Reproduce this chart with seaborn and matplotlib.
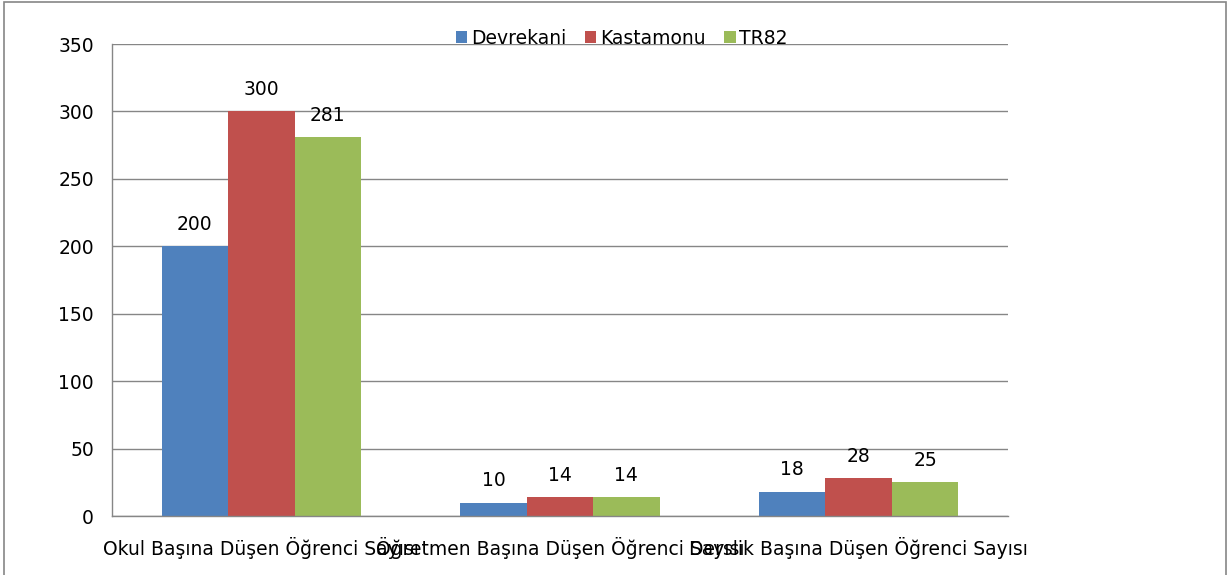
import matplotlib
matplotlib.use("Agg")
import matplotlib.pyplot as plt
import seaborn as sns
import pandas as pd
from matplotlib.patches import Rectangle

categories = ["Okul Başına Düşen Öğrenci Sayısı",
              "Öğretmen Başına Düşen Öğrenci Sayısı",
              "Derslik Başına Düşen Öğrenci Sayısı"]
series_names = ["Devrekani", "Kastamonu", "TR82"]
devrekani = [200, 10, 18]
kastamonu = [300, 14, 28]
tr82 = [281, 14, 25]
colors = ["#4F81BD", "#C0504D", "#9BBB59"]
yticks = [0, 50, 100, 150, 200, 250, 300, 350]

rows = []
for name, vals in zip(series_names, [devrekani, kastamonu, tr82]):
    for c, v in zip(categories, vals):
        rows.append({"cat": c, "series": name, "value": v})
df = pd.DataFrame(rows)

sns.set_theme(style="white")
plt.rcParams['font.family'] = ['DejaVu Sans']
plt.rcParams['text.color'] = 'black'
FS = 13.5

fig = plt.figure(figsize=(12.31, 5.75), dpi=100)
ax = fig.add_axes([112/1231, 1-516/575, (1008-112)/1231, (516-44)/575])

sns.barplot(data=df, x="cat", y="value", hue="series", order=categories,
            hue_order=series_names, palette=colors, width=0.667,
            saturation=1, ax=ax, edgecolor="none", linewidth=0)

for cont in ax.containers:
    ax.bar_label(cont, labels=[f"{v:.0f}" for v in cont.datavalues],
                 padding=9, fontsize=FS, color="black")

ax.set_xlim(-0.5, 2.5)
ax.set_ylim(0, 350)
ax.set_yticks(yticks)
ax.set_yticklabels([str(t) for t in yticks], fontsize=FS, color="black")
ax.yaxis.grid(True, color="#868686", linewidth=1)
ax.set_axisbelow(True)
ax.set_xticks([-0.5, 0.5, 1.5, 2.5])
ax.set_xticklabels([])
ax.set_xticks([0, 1, 2], minor=True)
ax.set_xticklabels(categories, minor=True, fontsize=FS, color="black")
ax.tick_params(axis="x", which="major", length=6, color="#868686", width=1, direction="out")
ax.tick_params(axis="x", which="minor", length=0, pad=15)
ax.tick_params(axis="y", length=7, color="#868686", width=1, direction="out", pad=6)
ax.set_xlabel("")
ax.set_ylabel("")
for s in ["top", "right"]:
    ax.spines[s].set_visible(False)
for s in ["left", "bottom"]:
    ax.spines[s].set_color("#868686")
    ax.spines[s].set_linewidth(1)

handles, labels = ax.get_legend_handles_labels()
leg = ax.legend(handles, labels, loc="center", bbox_to_anchor=(622/1231, 1-38/575),
                bbox_transform=fig.transFigure, ncol=3, frameon=False, fontsize=FS,
                handlelength=0.6, handleheight=0.6, handletextpad=0.2, columnspacing=1.0)
for t in leg.get_texts():
    t.set_color("black")

fig.patches.append(Rectangle((4/1231, -0.05), 1222/1231, 1.05 - 2/575, transform=fig.transFigure,
                             fill=False, edgecolor="#868686", linewidth=1.2))

fig.savefig("out.png", dpi=100)
